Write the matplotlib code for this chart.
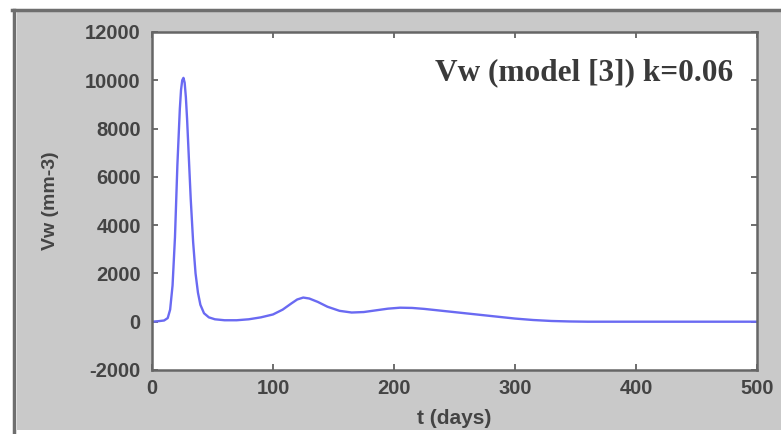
import matplotlib.pyplot as plt
from matplotlib.patches import Rectangle
from matplotlib.lines import Line2D

plt.rcParams['axes.unicode_minus'] = False

# values
t_days = [0, 5, 10, 13, 15, 17, 19, 21, 23, 24, 25, 26, 27, 28, 29, 30, 32, 34, 36,
          38, 40, 43, 47, 52, 60, 70, 80, 90, 100, 108, 115, 120, 125, 130, 137,
          145, 155, 165, 175, 185, 195, 205, 215, 225, 240, 255, 270, 285, 300,
          315, 330, 345, 360, 400, 450, 500]
vw = [0, 20, 50, 150, 500, 1500, 3500, 6500, 8800, 9600, 10000, 10100, 9900, 9300,
      8400, 7300, 5100, 3300, 2000, 1200, 700, 350, 180, 100, 60, 60, 100, 180,
      300, 500, 750, 920, 1000, 960, 820, 620, 450, 380, 400, 470, 540, 580, 570,
      530, 450, 370, 290, 210, 130, 70, 30, 10, 0, 0, 0, 0]

x_ticks = [0, 100, 200, 300, 400, 500]
y_ticks = [-2000, 0, 2000, 4000, 6000, 8000, 10000, 12000]

fig = plt.figure(figsize=(7.81, 4.34), dpi=100)
fig.patch.set_facecolor('white')

# grey MATLAB-style figure panel with a dark frame on top/left
fig.patches.append(Rectangle((0.022, 0.009), 0.978, 0.963, transform=fig.transFigure,
                             facecolor='#c9c9c9', edgecolor='none', zorder=-2))
fig.lines.append(Line2D([0.016, 1.0], [0.977, 0.977], transform=fig.transFigure,
                        color='#6e6e6e', linewidth=2.5, zorder=-1))
fig.lines.append(Line2D([0.018, 0.018], [0.0, 0.977], transform=fig.transFigure,
                        color='#6e6e6e', linewidth=2.5, zorder=-1))

ax = fig.add_axes([0.1946, 0.1475, 0.7747, 0.7788])
ax.set_facecolor('white')
ax.plot(t_days, vw, color='#6a6af2', linewidth=1.7)

ax.set_xlim(0, 500)
ax.set_ylim(-2000, 12000)
ax.set_xticks(x_ticks)
ax.set_yticks(y_ticks)
ax.tick_params(direction='in', length=4, width=1.2, top=True, right=True,
               colors='#555555', labelcolor='#444444', labelsize=14.5)
ax.tick_params(axis='y', pad=8)
ax.tick_params(axis='x', pad=6.5)
for lab in ax.get_xticklabels() + ax.get_yticklabels():
    lab.set_fontfamily('Liberation Sans')
    lab.set_fontweight('bold')
for s in ax.spines.values():
    s.set_color('#666666')
    s.set_linewidth(1.8)

ax.set_xlabel('t (days)', fontsize=15, color='#444444', family='Liberation Sans',
              fontweight='bold', labelpad=8)
ax.set_ylabel('Vw (mm-3)', fontsize=14, color='#444444', family='Liberation Sans',
              fontweight='bold', labelpad=19)

ax.text(0.961, 0.88, 'Vw (model [3]) k=0.06', transform=ax.transAxes, ha='right', va='center',
        fontsize=22.5, family='Liberation Serif', fontweight='bold', color='#3a3a3a')

fig.savefig('out.png', dpi=100)
